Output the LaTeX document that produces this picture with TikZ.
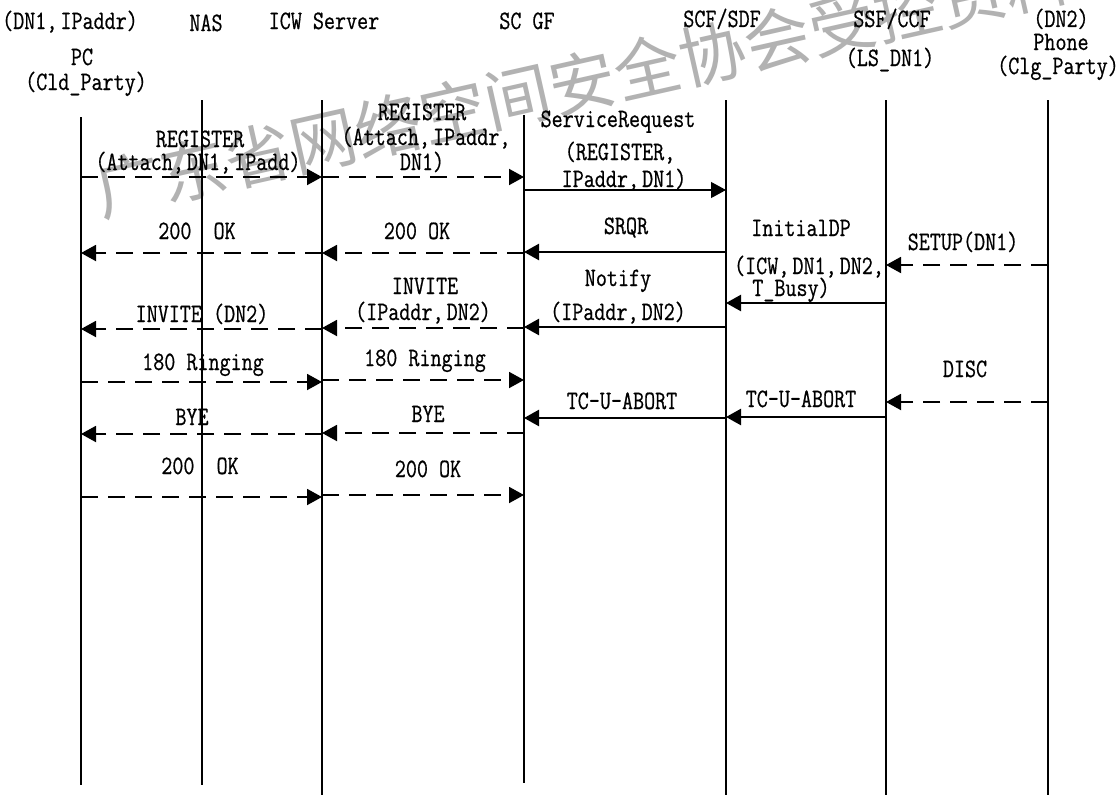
\documentclass[tikz,border=0pt]{standalone}
\usepackage{fontspec}
\setmainfont{Latin Modern Mono}[FakeStretch=0.81,FakeBold=0.6]
\newfontfamily\wmfont{Noto Sans CJK SC}
\usetikzlibrary{arrows.meta}
\newcommand\cma{,\hspace{-8pt}\ }
\begin{document}
\begin{tikzpicture}[x=1pt,y=-1pt,
  every node/.style={inner sep=0pt, font=\fontsize{26.5pt}{30pt}\selectfont},
  life/.style={line width=1.1pt},
  arrowtip/.style={-{Triangle[length=15pt,width=16pt]}},
  dmsg/.style={arrowtip, line width=1.9pt, dash pattern=on 17pt off 10pt},
  smsg/.style={arrowtip, line width=2.4pt},
  tmsg/.style={arrowtip, line width=1.2pt},
  lbl/.style={anchor=base},
  wm/.style={text=black!30, font=\wmfont\fontsize{66.5pt}{70pt}\selectfont, anchor=west, rotate=12.7}
]
\fill[white] (0,0) rectangle (1117,795);
\useasboundingbox (0,0) rectangle (1117,795);
\begin{scope}
  \clip (0,0) rectangle (1117,795);
  \node[wm] (wmark) at (96,192) {广东省网络空间安全协会受控资料};
\end{scope}

% lifelines
\coordinate (pcT) at (81,117);   \coordinate (pcB) at (81,785);
\coordinate (nasT) at (202,100); \coordinate (nasB) at (202,785);
\coordinate (icwT) at (322,100); \coordinate (icwB) at (322,795);
\coordinate (gfT) at (524,115);  \coordinate (gfB) at (524,783);
\coordinate (scfT) at (726,100); \coordinate (scfB) at (726,795);
\coordinate (ssfT) at (886,100); \coordinate (ssfB) at (886,795);
\coordinate (phT) at (1048,100); \coordinate (phB) at (1048,795);
\foreach \l in {pc,nas,icw,gf,scf,ssf,ph} \draw[life] (\l T) -- (\l B);

% headers
\node[lbl] (h1) at (70,29) {(DN1\cma IPaddr)};
\node[lbl] (h2) at (82,65) {PC};
\node[lbl] (h3) at (86,90) {(Cld\_Party)};
\node[lbl] (h4) at (206,31) {NAS};
\node[lbl] (h5) at (324,29) {ICW Server};
\node[lbl] (h6) at (527,29) {SC GF};
\node[lbl] (h7) at (722,27) {SCF/SDF};
\node[lbl] (h8) at (892,27) {SSF/CCF};
\node[lbl] (h9) at (890,66) {(LS\_DN1)};
\node[lbl] (h10) at (1061,27) {(DN2)};
\node[lbl] (h11) at (1061,50) {Phone};
\node[lbl] (h12) at (1058,74) {(Clg\_Party)};

% messages
\draw[dmsg] (pcT |- 0,177) -- (icwT |- 0,177);
\node[lbl] (m1a) at (200,147) {REGISTER};
\node[lbl] (m1b) at (198,170) {(Attach\cma DN1\cma IPadd)};

\draw[dmsg] (icwT |- 0,177) -- (gfT |- 0,177);
\node[lbl] (m2a) at (422,120) {REGISTER};
\node[lbl] (m2b) at (422,145) {(Attach\cma IPaddr\cma};
\node[lbl] (m2c) at (422,170) {DN1)};

\draw[tmsg] (gfT |- 0,190) -- (scfT |- 0,190);
\node[lbl] (m3a) at (618,127) {ServiceRequest};
\node[lbl] (m3b) at (616,160) {(REGISTER\cma};
\node[lbl] (m3c) at (624,187) {IPaddr\cma DN1)};

\draw[dmsg] (icwT |- 0,253) -- (pcT |- 0,253);
\node[lbl] (m4) at (197,239) {200\ \ OK};

\draw[dmsg] (gfT |- 0,253) -- (icwT |- 0,253);
\node[lbl] (m5) at (417,239) {200 OK};

\draw[smsg] (scfT |- 0,252) -- (gfT |- 0,252);
\node[lbl] (m6) at (626,234) {SRQR};

\draw[dmsg] (phT |- 0,265) -- (ssfT |- 0,265);
\node[lbl] (m7) at (963,250) {SETUP(DN1)};

\draw[smsg] (ssfT |- 0,303) -- (scfT |- 0,303);
\node[lbl] (m8a) at (801,236) {InitialDP};
\node[lbl] (m8b) at (805,274) {(ICW\cma DN1\cma DN2\cma};
\node[lbl] (m8c) at (791,296) {T\_Busy)};

\draw[smsg] (scfT |- 0,327) -- (gfT |- 0,327);
\node[lbl] (m9a) at (618,286) {Notify};
\node[lbl] (m9b) at (618,320) {(IPaddr\cma DN2)};

\draw[dmsg] (gfT |- 0,328) -- (icwT |- 0,328);
\node[lbl] (m10a) at (425,294) {INVITE};
\node[lbl] (m10b) at (423,320) {(IPaddr\cma DN2)};

\draw[dmsg] (icwT |- 0,329) -- (pcT |- 0,329);
\node[lbl] (m11) at (202,322) {INVITE (DN2)};

\draw[dmsg] (pcT |- 0,382) -- (icwT |- 0,382);
\node[lbl] (m12) at (203,370) {180 Ringing};

\draw[dmsg] (icwT |- 0,380) -- (gfT |- 0,380);
\node[lbl] (m13) at (425,366) {180 Ringing};

\draw[dmsg] (phT |- 0,402) -- (ssfT |- 0,402);
\node[lbl] (m14) at (965,377) {DISC};

\draw[smsg] (ssfT |- 0,417) -- (scfT |- 0,417);
\node[lbl] (m15) at (801,407) {TC-U-ABORT};

\draw[smsg] (scfT |- 0,418) -- (gfT |- 0,418);
\node[lbl] (m16) at (622,409) {TC-U-ABORT};

\draw[dmsg] (gfT |- 0,433) -- (icwT |- 0,433);
\node[lbl] (m17) at (428,422) {BYE};

\draw[dmsg] (icwT |- 0,434) -- (pcT |- 0,434);
\node[lbl] (m18) at (192,425) {BYE};

\draw[dmsg] (pcT |- 0,497) -- (icwT |- 0,497);
\node[lbl] (m19) at (200,474) {200\ \ OK};

\draw[dmsg] (icwT |- 0,495) -- (gfT |- 0,495);
\node[lbl] (m20) at (428,477) {200 OK};
\end{tikzpicture}
\end{document}
